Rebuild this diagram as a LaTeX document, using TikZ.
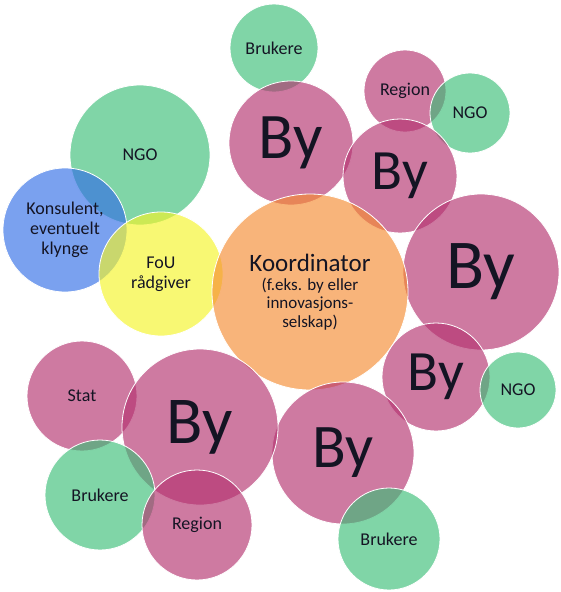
\documentclass[tikz,border=0pt]{standalone}
\usepackage{fontspec}
\setmainfont{Carlito}
\definecolor{rosa}{RGB}{180,50,111}
\definecolor{verde}{RGB}{60,190,120}
\definecolor{arancio}{RGB}{245,140,50}
\definecolor{giallo}{RGB}{245,245,40}
\definecolor{blu}{RGB}{50,110,230}
\definecolor{testo}{RGB}{20,20,35}
\begin{document}
\begin{tikzpicture}[x=1pt,y=-1pt,
    bolla/.style={circle,draw=white,line width=0.8pt,fill opacity=0.65,text opacity=1,
      inner sep=0pt,text=testo,align=center,font=\fontsize{18}{20}\selectfont},
    citta/.style={bolla,fill=rosa,font=\fontsize{#1}{#1}\selectfont}]
  \useasboundingbox (0,0) rectangle (561,592);
  %sinistra in alto
  \node[bolla,fill=verde,minimum size=140pt] (ngoA) at (140,155) {NGO};
  \node[bolla,fill=blu,minimum size=124pt] (kons) at (65,230) {Konsulent,\\eventuelt\\klynge};
  \node[bolla,fill=giallo,minimum size=124pt] (fou) at (161,274) {FoU\\rådgiver};
  %in alto
  \node[bolla,fill=verde,minimum size=88pt] (brukA) at (274,48) {Brukere};
  \node[citta=65,minimum size=124pt] (byA) at (291,143) {By};
  \node[bolla,fill=rosa,minimum size=82pt] (regA) at (405,91) {Region};
  \node[bolla,fill=verde,minimum size=80pt] (ngoB) at (470,113) {NGO};
  \node[citta=57,minimum size=114pt] (byB) at (400,176) {By};
  %destra
  \node[citta=70,minimum size=156pt] (byC) at (481,272) {By};
  \node[bolla,fill=arancio,minimum size=196pt,font=\fontsize{17}{18.5}\selectfont] (koord) at (310,292)
    {{\fontsize{25}{26}\selectfont Koordinator}\\(f.eks. by eller\\innovasjons-\\selskap)};
  \node[citta=57,minimum size=108pt] (byD) at (436,377) {By};
  \node[bolla,fill=verde,minimum size=76pt] (ngoC) at (518,390) {NGO};
  %in basso
  \node[citta=62,minimum size=142pt] (byE) at (343,453) {By};
  \node[bolla,fill=verde,minimum size=102pt] (brukB) at (389,539) {Brukere};
  \node[bolla,fill=rosa,minimum size=110pt] (stat) at (82,396) {Stat};
  \node[citta=67,minimum size=156pt] (byF) at (200,427) {By};
  \node[bolla,fill=verde,minimum size=110pt] (brukC) at (100,495) {Brukere};
  \node[bolla,fill=rosa,minimum size=110pt] (regB) at (197,525) {Region};
\end{tikzpicture}
\end{document}
